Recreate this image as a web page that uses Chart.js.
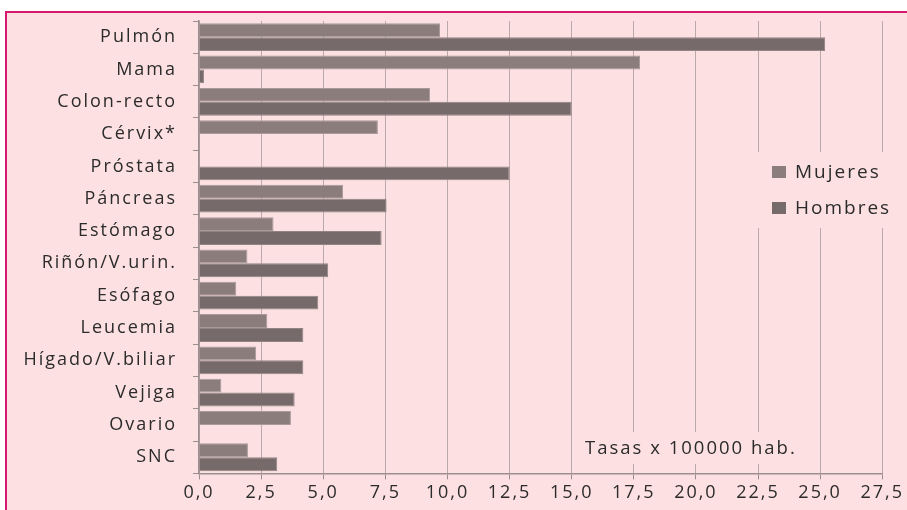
<!DOCTYPE html>
<html>
<head>
<meta charset="utf-8">
<script src="https://cdn.jsdelivr.net/npm/chart.js@4"></script>
<style>
html,body{margin:0;padding:0;background:#ffffff;}
#wrap{position:relative;width:907px;height:510px;overflow:hidden;}
#frame{position:absolute;left:5px;top:11px;width:920px;height:520px;background:#fde0e2;border:2px solid #d6186e;box-sizing:border-box;}
#c{position:absolute;left:0;top:0;}
</style>
</head>
<body>
<div id="wrap">
<div id="frame"></div>
<canvas id="c" width="907" height="510"></canvas>
</div>
<script>
const categories = ['Pulmón','Mama','Colon-recto','Cérvix*','Próstata','Páncreas','Estómago','Riñón/V.urin.','Esófago','Leucemia','Hígado/V.biliar','Vejiga','Ovario','SNC'];
const mujeres = [9.7, 17.75, 9.3, 7.2, null, 5.8, 3.0, 1.95, 1.5, 2.75, 2.3, 0.9, 3.7, 1.97];
const hombres = [25.2, 0.2, 15.0, null, 12.5, 7.55, 7.35, 5.2, 4.8, 4.2, 4.2, 3.85, null, 3.15];
const xTickLabels = ['0,0','2,5','5,0','7,5','10,0','12,5','15,0','17,5','20,0','22,5','25,0','27,5'];
const seriesNames = ['Mujeres','Hombres'];
const noteText = 'Tasas x 100000 hab.';

const FONT = "'Open Sans', 'DejaVu Sans', sans-serif";
const SPACING = '2px';
const TEXT = '#2b2b2b';

const spacingPlugin = {
  id: 'spacing',
  beforeUpdate(chart){ chart.ctx.letterSpacing = SPACING; },
  beforeLayout(chart){ chart.ctx.letterSpacing = SPACING; },
  beforeDraw(chart){ chart.ctx.letterSpacing = SPACING; }
};

const overlayPlugin = {
  id: 'overlay',
  afterDraw(chart){
    const ctx = chart.ctx;
    ctx.save();
    ctx.letterSpacing = SPACING;
    // legend box
    ctx.fillStyle = '#fde0e2';
    ctx.fillRect(758, 152, 150, 76);
    const ds = chart.data.datasets;
    const ys = [172, 208];
    ds.forEach((d, i) => {
      ctx.fillStyle = d.backgroundColor;
      ctx.fillRect(772, ys[i] - 6, 14, 12);
      ctx.fillStyle = TEXT;
      ctx.font = "19px " + FONT;
      ctx.textBaseline = 'middle';
      ctx.textAlign = 'left';
      ctx.fillText(d.label, 795, ys[i] + 1);
    });
    // note box
    ctx.fillStyle = '#fde0e2';
    ctx.fillRect(580, 432, 230, 32);
    ctx.fillStyle = TEXT;
    ctx.font = "18.5px " + FONT;
    ctx.textBaseline = 'middle';
    ctx.textAlign = 'left';
    ctx.fillText(noteText, 585, 449);
    ctx.restore();
  }
};

new Chart(document.getElementById('c'), {
  type: 'bar',
  data: {
    labels: categories,
    datasets: [
      { label: seriesNames[0], data: mujeres, backgroundColor: '#8c7d7d', borderColor: '#a89a9a', borderWidth: 1, categoryPercentage: 0.86, barPercentage: 1.0 },
      { label: seriesNames[1], data: hombres, backgroundColor: '#766a6a', borderColor: '#918484', borderWidth: 1, categoryPercentage: 0.86, barPercentage: 1.0 }
    ]
  },
  options: {
    indexAxis: 'y',
    responsive: false,
    animation: false,
    devicePixelRatio: 1,
    layout: { padding: { top: 21, bottom: 3, left: 0, right: 0 } },
    plugins: { legend: { display: false }, tooltip: { enabled: false } },
    scales: {
      x: {
        min: 0, max: 27.5,
        ticks: {
          stepSize: 2.5,
          color: TEXT,
          font: { family: FONT, size: 18 },
          padding: 3,
          maxRotation: 0,
          callback: (v, i) => xTickLabels[i]
        },
        grid: { color: '#bca9ab', lineWidth: 1, drawTicks: true, tickLength: 6, tickColor: '#9a8e8e' },
        border: { display: true, color: '#9a8e8e', width: 1.5 }
      },
      y: {
        afterFit(scale){ scale.width = 199; scale.paddingTop = 0; scale.paddingBottom = 0; },
        ticks: { color: TEXT, font: { family: FONT, size: 18 }, padding: 16 },
        grid: { drawOnChartArea: false, drawTicks: true, tickLength: 6, tickColor: '#9a8e8e', offset: true },
        border: { display: true, color: '#9a8e8e', width: 1.5 }
      }
    }
  },
  plugins: [spacingPlugin, overlayPlugin]
});
</script>
</body>
</html>
